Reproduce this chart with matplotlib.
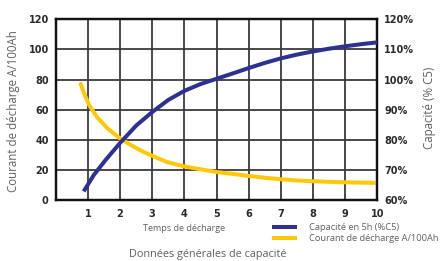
import matplotlib
matplotlib.use("Agg")
import matplotlib.pyplot as plt
from matplotlib import font_manager

# Data
cap_x = [0.87, 1.19, 1.56, 2.0, 2.5, 3.0, 3.5, 4.0, 4.5, 5.0, 5.5, 6.0, 6.5, 7.0, 7.5, 8.0, 8.5, 9.0, 9.5, 10.0]
cap_val = [6.0, 17.0, 27.0, 38.0, 49.5, 58.5, 66.5, 72.5, 77.0, 80.5, 84.0, 87.6, 91.0, 94.0, 96.5, 98.6, 100.4, 102.0, 103.4, 104.6]
cap_pct = [60 + v / 2 for v in cap_val]
cur_x = [0.76, 0.88, 1.04, 1.30, 1.61, 2.0, 2.33, 2.75, 3.06, 3.45, 4.0, 4.5, 5.0, 5.5, 6.0, 6.5, 7.0, 7.5, 8.0, 8.5, 9.0, 9.5, 10.0]
cur_val = [78.0, 71.0, 63.0, 54.7, 47.7, 41.0, 36.7, 31.9, 29.0, 25.5, 22.5, 20.6, 18.8, 17.6, 16.2, 15.0, 14.0, 13.2, 12.7, 12.3, 12.0, 11.8, 11.6]
x_ticks = [1, 2, 3, 4, 5, 6, 7, 8, 9, 10]
left_ticks = [0, 20, 40, 60, 80, 100, 120]
right_ticks = [60, 70, 80, 90, 100, 110, 120]

names = {f.name for f in font_manager.fontManager.ttflist}
tick_font = "Liberation Sans Narrow" if "Liberation Sans Narrow" in names else "DejaVu Sans"
label_font = "Open Sans"

BLUE = "#2E3192"
YELLOW = "#FFC90A"
GRAY = "#606060"

fig = plt.figure(figsize=(4.42, 2.61), dpi=100)
ax = fig.add_axes([0.126, 0.232, 0.728, 0.695])
ax2 = ax.twinx()

ax.set_xlim(0, 10)
ax.set_ylim(0, 120)
ax2.set_ylim(60, 120)

ax.set_xticks(x_ticks)
ax.set_yticks(left_ticks)
ax2.set_yticks(right_ticks)
ax2.set_yticklabels([f"{v}%" for v in right_ticks])

ax.grid(True, color="#3a3a3a", linewidth=1.3)
ax.set_axisbelow(True)
for a in (ax, ax2):
    for s in a.spines.values():
        s.set_linewidth(1.6)
        s.set_color("#111111")
    a.tick_params(length=0, labelsize=7, labelcolor="#2a2a2a")
    for lab in a.get_xticklabels() + a.get_yticklabels():
        lab.set_fontfamily(tick_font)
        lab.set_fontweight("bold")
ax.tick_params(axis="x", pad=6)
ax.tick_params(axis="y", pad=5)
ax2.tick_params(axis="y", pad=5)

l2, = ax2.plot(cap_x, cap_pct, color=BLUE, linewidth=2.9, solid_capstyle="butt", solid_joinstyle="round", zorder=3)
l1, = ax.plot(cur_x, cur_val, color=YELLOW, linewidth=2.9, solid_capstyle="butt", solid_joinstyle="round", zorder=3)
ax.set_zorder(2)
ax.patch.set_visible(False)
ax2.set_zorder(3)

ax.set_ylabel("Courant de décharge A/100Ah", fontfamily=label_font, fontsize=8.3, color=GRAY)
ax.yaxis.set_label_coords(-0.111, 0.493)
ax2.set_ylabel("Capacité (% C5)", fontfamily=label_font, fontsize=8.3, color=GRAY)
ax2.yaxis.set_label_coords(1.142, 0.512)

fig.text(0.416, 0.126, "Temps de décharge", fontfamily=label_font, fontsize=6.5, color=GRAY, ha="center", va="center")
fig.text(0.471, 0.024, "Données générales de capacité", fontfamily=label_font, fontsize=7.8, color=GRAY, ha="center", va="center")

leg = fig.legend([l2, l1], ["Capacité en 5h (%C5)", "Courant de décharge A/100Ah"],
                 loc="upper left", bbox_to_anchor=(0.615, 0.145), frameon=False,
                 prop={"family": label_font, "size": 6.7}, labelspacing=0.2,
                 handlelength=2.7, handletextpad=1.3, borderpad=0, borderaxespad=0)
for t in leg.get_texts():
    t.set_color(GRAY)

fig.savefig("out.png", dpi=100)
